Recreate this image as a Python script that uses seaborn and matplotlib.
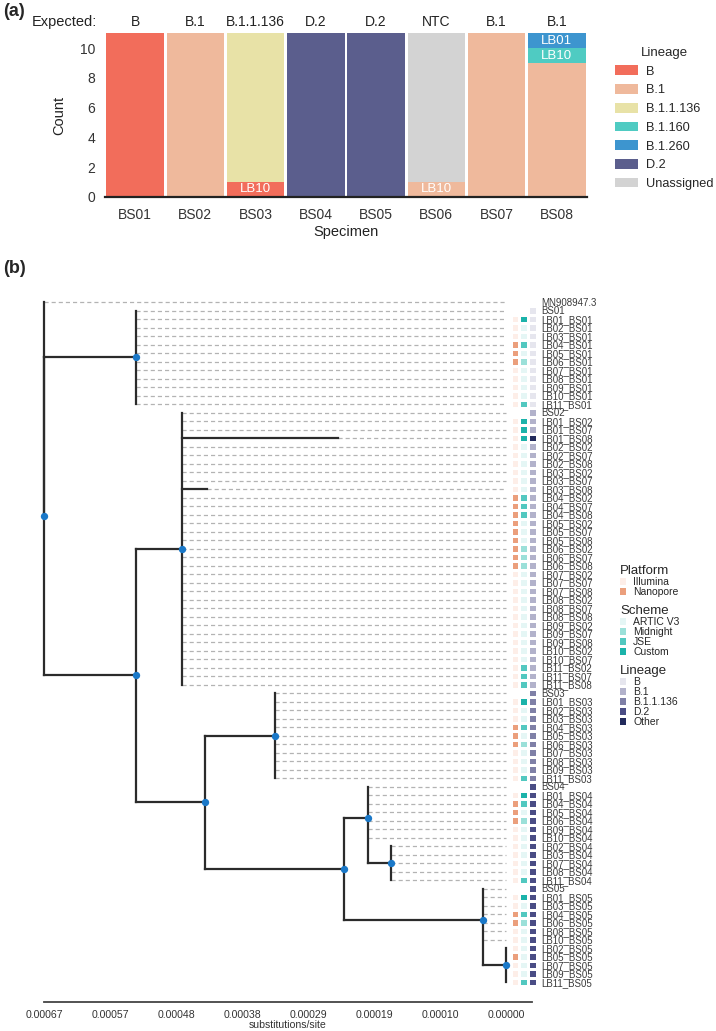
import numpy as np
import pandas as pd
import matplotlib
matplotlib.use("Agg")
import matplotlib.pyplot as plt
from matplotlib.colors import ListedColormap
from matplotlib.patches import Patch
import seaborn as sns

sns.set_style("white")
plt.rcParams["font.family"] = ["Liberation Sans", "DejaVu Sans"]

# ---------------- (a) lineage calls per specimen
specimens = ["BS01", "BS02", "BS03", "BS04", "BS05", "BS06", "BS07", "BS08"]
expected = ["B", "B.1", "B.1.1.136", "D.2", "D.2", "NTC", "B.1", "B.1"]
lineages = ["B", "B.1", "B.1.1.136", "B.1.160", "B.1.260", "D.2", "Unassigned"]
lineage_cols = ["#f26d5b", "#efb99c", "#e8e2a7", "#4fcbc2", "#3d95cf", "#5b5e8d", "#d3d3d3"]

seg_specimen = ["BS01", "BS02", "BS03", "BS03", "BS04", "BS05", "BS06", "BS06", "BS07", "BS08", "BS08", "BS08"]
seg_lineage = ["B", "B.1", "B", "B.1.1.136", "D.2", "D.2", "B.1", "Unassigned", "B.1", "B.1", "B.1.160", "B.1.260"]
seg_count = [11, 11, 1, 10, 11, 11, 1, 10, 11, 9, 1, 1]
seg_note = ["", "", "LB10", "", "", "", "LB10", "", "", "", "LB10", "LB01"]

# ---------------- (b) tree
tips_root = ["MN908947.3"]
tips_bs01 = ["BS01", "LB01_BS01", "LB02_BS01", "LB03_BS01", "LB04_BS01", "LB05_BS01", "LB06_BS01",
             "LB07_BS01", "LB08_BS01", "LB09_BS01", "LB10_BS01", "LB11_BS01"]
tips_bs02 = ["BS02", "LB01_BS02", "LB01_BS07", "LB01_BS08", "LB02_BS02", "LB02_BS07", "LB02_BS08",
             "LB03_BS02", "LB03_BS07", "LB03_BS08", "LB04_BS02", "LB04_BS07", "LB04_BS08",
             "LB05_BS02", "LB05_BS07", "LB05_BS08", "LB06_BS02", "LB06_BS07", "LB06_BS08",
             "LB07_BS02", "LB07_BS07", "LB07_BS08", "LB08_BS02", "LB08_BS07", "LB08_BS08",
             "LB09_BS02", "LB09_BS07", "LB09_BS08", "LB10_BS02", "LB10_BS07",
             "LB11_BS02", "LB11_BS07", "LB11_BS08"]
tips_bs03 = ["BS03", "LB01_BS03", "LB02_BS03", "LB03_BS03", "LB04_BS03", "LB05_BS03", "LB06_BS03",
             "LB07_BS03", "LB08_BS03", "LB09_BS03", "LB11_BS03"]
tips_bs04 = ["BS04", "LB01_BS04", "LB04_BS04", "LB05_BS04", "LB06_BS04", "LB09_BS04", "LB10_BS04"]
tips_bs04s = ["LB02_BS04", "LB03_BS04", "LB07_BS04", "LB08_BS04", "LB11_BS04"]
tips_bs05 = ["BS05", "LB01_BS05", "LB03_BS05", "LB04_BS05", "LB06_BS05", "LB08_BS05", "LB10_BS05"]
tips_bs05s = ["LB02_BS05", "LB05_BS05", "LB07_BS05", "LB09_BS05", "LB11_BS05"]
tip_lists = [tips_root, tips_bs01, tips_bs02, tips_bs03, tips_bs04, tips_bs04s, tips_bs05, tips_bs05s]
tip_list_parent = ["root", "BS01", "BS02", "BS03", "BS04", "BS04s", "BS05", "BS05s"]

node_names = ["root", "A", "BS01", "B", "BS02", "C", "BS03", "D", "BS04", "BS04s", "BS05", "BS05s"]
node_parents = [None, "root", "A", "A", "B", "B", "C", "C", "D", "BS04", "D", "BS05"]
# substitutions/site before the most recent tips
node_heights = [0.00067, 0.00067, 0.000537, 0.000537, 0.000470, 0.000437, 0.000335,
                0.000235, 0.000200, 0.000167, 0.0000334, 0.0]
long_tips = ["LB01_BS08", "LB03_BS08"]
long_tip_heights = [0.000244, 0.000434]

# annotation columns (- = none)
platform = ("- "
            "- I I I N N N I I I I I "
            "- I I I I I I I I I N N N N N N N N N I I I I I I I I I I I I I I "
            "- I I I N N N I I I I "
            "- I N N N I I "
            "I I I I I "
            "- I I N N I I "
            "I N I I I").split()
scheme = ("- "
          "- C A A J A M A A A A J "
          "- C C C A A A A A A J J J A A A M M M A A A A A A A A A A A J J J "
          "- C A A J A M A A A J "
          "- C J A M A A "
          "A A A A J "
          "- C A J M A A "
          "A A A A J").split()
lineage_tip = (["-"] + ["B"] * 12 + ["B.1"] * 3 + ["Other"] + ["B.1"] * 29
               + ["B.1.1.136"] * 11 + ["D.2"] * 24)

platform_names = ["Illumina", "Nanopore"]
platform_codes = ["I", "N"]
platform_cols = ["#fdeee8", "#eb9f7c"]
scheme_names = ["ARTIC V3", "Midnight", "JSE", "Custom"]
scheme_codes = ["A", "M", "J", "C"]
scheme_cols = ["#e5f6f5", "#9be0d9", "#52c8c0", "#1bb3aa"]
tiplin_names = ["B", "B.1", "B.1.1.136", "D.2", "Other"]
tiplin_cols = ["#e6e6ee", "#b2b2cb", "#7f80a7", "#4a4d85", "#222a5c"]

# ---------------------------------------------------------------
fig = plt.figure(figsize=(7.16, 10.31), dpi=100)

# ----- panel (a)
ax1 = fig.add_axes([105 / 716, 1 - 196.7 / 1031, 482 / 716, 163.3 / 1031])
df = pd.DataFrame({"Specimen": pd.Categorical(seg_specimen, categories=specimens),
                   "Lineage": seg_lineage, "Count": seg_count})
# histplot stacks the first hue level on top, so hand it the order reversed
sns.histplot(data=df, x="Specimen", weights="Count", hue="Lineage", hue_order=lineages[::-1],
             palette=lineage_cols[::-1], multiple="stack", discrete=True, shrink=0.955,
             alpha=1, linewidth=0, legend=False, ax=ax1)
ax1.set_xlim(-0.5, 7.5)
ax1.set_ylim(0, 11)
ax1.set_yticks([0, 2, 4, 6, 8, 10])
ax1.set_xticks(range(len(specimens)))
ax1.set_xticklabels(specimens)
ax1.tick_params(axis="both", length=0, labelsize=10, colors="#333333")
ax1.tick_params(axis="x", pad=8)
ax1.tick_params(axis="y", pad=7)
ax1.set_xlabel("Specimen", fontsize=10.5, labelpad=2, color="#222222")
ax1.set_ylabel("Count", fontsize=10.5, labelpad=10, color="#222222")
for s in ["left", "top", "right"]:
    ax1.spines[s].set_visible(False)
ax1.spines["bottom"].set_color("#222222")
ax1.spines["bottom"].set_linewidth(1.6)

# white labels inside the minor segments
for i, sp in enumerate(specimens):
    bottom = 0
    for lin in lineages:
        hit = df[(df["Specimen"] == sp) & (df["Lineage"] == lin)]
        if len(hit) == 0:
            continue
        c = int(hit["Count"].iloc[0])
        note = seg_note[hit.index[0]]
        if note:
            ax1.text(i, bottom + c / 2, note, ha="center", va="center", color="white", fontsize=9.5)
        bottom += c

for i, e in enumerate(expected):
    ax1.text(i, 11.75, e, ha="center", va="center", fontsize=10, color="#222222", clip_on=False)
ax1.text(-0.63, 11.75, "Expected:", ha="right", va="center", fontsize=10.5, color="#222222", clip_on=False)

ax1.legend([Patch(facecolor=c, edgecolor="none") for c in lineage_cols], lineages, title="Lineage",
           loc="upper left", bbox_to_anchor=(615 / 716, 1 - 47 / 1031), bbox_transform=fig.transFigure,
           frameon=False, fontsize=9.2, title_fontsize=9.5, handlelength=1.8, handleheight=0.8,
           labelspacing=0.5, handletextpad=0.65, borderpad=0, borderaxespad=0)

fig.text(0.004, 1 - 12 / 1031, "(a)", fontsize=13, fontweight="bold", va="center")
fig.text(0.004, 1 - 268 / 1031, "(b)", fontsize=13, fontweight="bold", va="center")

# ----- panel (b) tree
tip_labels = sum(tip_lists, [])
tip_parent = sum([[p] * len(t) for p, t in zip(tip_list_parent, tip_lists)], [])
height_of = dict(zip(node_names, node_heights))
tip_height = [height_of[p] for p in tip_parent]
for lab, h in zip(long_tips, long_tip_heights):
    tip_height[tip_labels.index(lab)] = h

children = {n: [] for n in node_names}
for i, p in enumerate(tip_parent):
    children[p].append(("tip", i))
for n, p in zip(node_names, node_parents):
    if p is not None:
        children[p].append(("node", n))

node_y = {}
for n in reversed(node_names):
    ys = [float(k) if t == "tip" else node_y[k] for t, k in children[n]]
    node_y[n] = np.mean(ys)

row0, row_h = 302, 8.5
ax2 = fig.add_axes([44 / 716, 1 - 1002 / 1031, 488 / 716, (1002 - 297.75) / 1031])
ax2.set_ylim((1002 - row0) / row_h, -0.5)
ax2.set_xlim(0.00067, -26 / 689552)

line_kw = dict(color="#2b2b2b", lw=1.6, solid_capstyle="projecting", zorder=3, clip_on=False)
for n in node_names:
    h = height_of[n]
    ys = []
    for t, k in children[n]:
        if t == "tip":
            cy, ch = k, tip_height[k]
        else:
            cy, ch = node_y[k], height_of[k]
        ys.append(cy)
        if ch != h:
            ax2.plot([h, ch], [cy, cy], **line_kw)
    ax2.plot([h, h], [min(ys), max(ys)], **line_kw)

for i, h in enumerate(tip_height):
    if h > 0:
        ax2.plot([h, 0], [i, i], color="#b3b3b3", lw=0.9, ls=(0, (3.3, 2.4)), zorder=1, clip_on=False)

dot_nodes = node_names[1:]
sns.scatterplot(x=[height_of[n] for n in dot_nodes], y=[node_y[n] for n in dot_nodes],
                color="#1a78c8", s=28, linewidth=0, zorder=5, clip_on=False, ax=ax2)

ticks = np.linspace(0.00067, 0, 8)
ax2.set_xticks(ticks)
ax2.set_xticklabels([f"{t:.5f}" for t in ticks])
ax2.set_yticks([])
ax2.tick_params(axis="x", length=3.5, width=1.1, color="#444444", labelsize=7.6, labelcolor="#333333", pad=2)
ax2.set_xlabel("substitutions/site", fontsize=7.6, labelpad=0, color="#333333")
for s in ["left", "top", "right"]:
    ax2.spines[s].set_visible(False)
ax2.spines["bottom"].set_color("#444444")
ax2.spines["bottom"].set_linewidth(1.3)
ax2.patch.set_alpha(0)

# ----- annotation heatmap
pal = platform_cols + scheme_cols + tiplin_cols
mat = np.full((len(tip_labels), 3), np.nan)
for i in range(len(tip_labels)):
    if platform[i] in platform_codes:
        mat[i, 0] = platform_codes.index(platform[i])
    if scheme[i] in scheme_codes:
        mat[i, 1] = len(platform_cols) + scheme_codes.index(scheme[i])
    if lineage_tip[i] in tiplin_names:
        mat[i, 2] = len(platform_cols) + len(scheme_cols) + tiplin_names.index(lineage_tip[i])

ax3 = fig.add_axes([510.7 / 716, 1 - 986.25 / 1031, 25.9 / 716, 688.5 / 1031])
sns.heatmap(mat, mask=np.isnan(mat), cmap=ListedColormap(pal), vmin=-0.5, vmax=len(pal) - 0.5,
            cbar=False, linewidths=1.0, linecolor="white", xticklabels=False,
            yticklabels=tip_labels, ax=ax3)
ax3.yaxis.tick_right()
ax3.tick_params(axis="y", length=0, pad=3.5, labelsize=7, labelcolor="#3a3a3a", labelrotation=0,
                left=False, right=False)
ax3.patch.set_alpha(0)

leg_kw = dict(loc="upper left", frameon=False, fontsize=7.5, title_fontsize=9.5, handlelength=0.6,
              handleheight=0.6, handletextpad=0.65, labelspacing=0.0, borderpad=0, borderaxespad=0,
              alignment="left", bbox_transform=fig.transFigure)
for names, cols, title, top in [(platform_names, platform_cols, "Platform", 565),
                                (scheme_names, scheme_cols, "Scheme", 605),
                                (tiplin_names, tiplin_cols, "Lineage", 665)]:
    fig.legend([Patch(facecolor=c, edgecolor="none") for c in cols], names, title=title,
               bbox_to_anchor=(620 / 716, 1 - top / 1031), **leg_kw)

fig.savefig("out.png", dpi=100)
